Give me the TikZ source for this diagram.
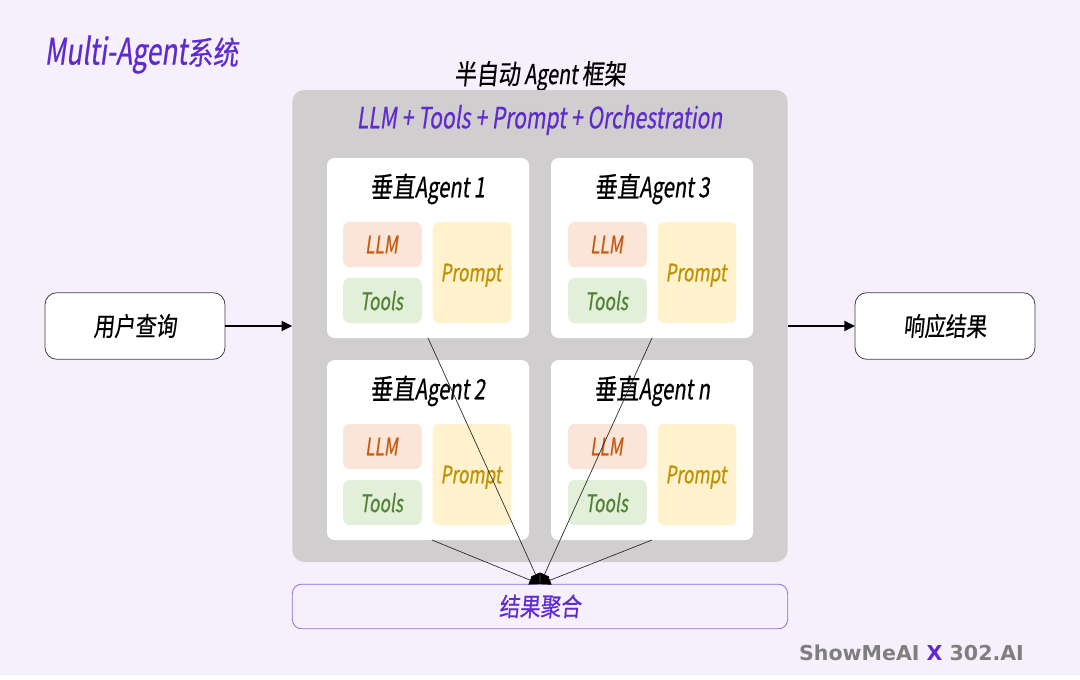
\documentclass[tikz,border=0pt]{standalone}
\usepackage{fontspec}
\setmainfont{Noto Sans CJK SC}[FakeStretch=0.72,FakeSlant=0.14,FakeBold=0.5]
\newfontfamily\cnfont{Noto Sans CJK SC}[FakeStretch=0.8,FakeSlant=0.1,FakeBold=0.5]
\newcommand{\cn}[1]{{\cnfont #1}}
\newfontfamily\wmfont{DejaVu Sans Bold}
\usetikzlibrary{arrows.meta,positioning}
\definecolor{bgc}{HTML}{F6F0FD}
\definecolor{purp}{HTML}{5F2BD0}
\definecolor{panel}{HTML}{D0CECE}
\definecolor{llmf}{HTML}{FBE5D9}
\definecolor{llmt}{HTML}{C55A11}
\definecolor{toolf}{HTML}{E2F0D9}
\definecolor{toolt}{HTML}{548235}
\definecolor{promf}{HTML}{FFF2CC}
\definecolor{promt}{HTML}{BF9000}
\definecolor{wmg}{HTML}{7F7F7F}
\tikzset{
  x=0.75pt,y=-0.75pt,
  card/.style={fill=white,rounded corners=7.5pt*0.75,minimum width=151.5pt,minimum height=135pt,inner sep=0,outer sep=0},
  io/.style={draw=black!75,line width=0.6pt,fill=white,rounded corners=9pt,minimum width=135pt,minimum height=50pt,inner sep=0,outer sep=0},
  tag/.style={rounded corners=5pt,inner sep=0,outer sep=0,minimum width=59pt,minimum height=34pt,text depth=0pt,font=\fontsize{18pt}{18pt}\selectfont,execute at begin node=\hspace{-1.5pt}},
  llmb/.style={tag,fill=llmf,text=llmt},
  toolb/.style={tag,fill=toolf,text=toolt},
  promb/.style={tag,fill=promf,text=promt,minimum width=59pt,minimum height=76pt},
  ctitle/.style={inner sep=0,font=\fontsize{21pt}{21pt}\selectfont},
  flow/.style={line width=1.4pt,-{Triangle[length=8pt,width=7.5pt]}},
  gather/.style={line width=0.5pt,draw=black!85,-{Triangle[length=8pt,width=7pt,color=black]}},
}
\begin{document}
\begin{tikzpicture}
\useasboundingbox (0,0) rectangle (1080,679);
\fill[white] (0,0) rectangle (1080,679);
\fill[bgc] (0,0) rectangle (1080,675);
\node[text=purp,inner sep=0,font=\fontsize{27.5pt}{27.5pt}\selectfont] (title) at (141.5,54.5) {Multi-Agent{\fontsize{24pt}{24pt}\selectfont\cn{系统}}};
\node[inner sep=0,font=\fontsize{20.5pt}{20.5pt}\selectfont] (frame) at (540,76) {\cn{半自动} Agent \cn{框架}};
\node[fill=panel,rounded corners=9pt,minimum width=371.5pt,minimum height=354pt,inner sep=0,outer sep=0] (panelbox) at (540,326) {};
\node[text=purp,inner sep=0,font=\fontsize{22pt}{22pt}\selectfont] (formula) at (539.5,120) {LLM + Tools + Prompt + Orchestration};
\node[card] (a1) at (428,248) {};
\node[card] (a3) at (652,248) {};
\node[card] (a2) at (428,450) {};
\node[card] (an) at (652,450) {};
\node[ctitle] (t1) at (427.5,189) {\cn{垂直}Agent 1};
\node[ctitle] (t3) at (652,189) {\cn{垂直}Agent 3};
\node[ctitle] (t2) at (427.5,391) {\cn{垂直}Agent 2};
\node[ctitle] (tn) at (652,391) {\cn{垂直}Agent n};
\node[llmb] (l1) at (382.5,244.5) {LLM};
\node[toolb] (o1) at (382.5,300.5) {Tools};
\node[promb] (p1) at (472,272.5) {Prompt};
\node[llmb] (l3) at (607.5,244.5) {LLM};
\node[toolb] (o3) at (607.5,300.5) {Tools};
\node[promb] (p3) at (697,272.5) {Prompt};
\node[llmb] (l2) at (382.5,446.5) {LLM};
\node[toolb] (o2) at (382.5,502.5) {Tools};
\node[promb] (p2) at (472,474.5) {Prompt};
\node[llmb] (ln) at (607.5,446.5) {LLM};
\node[toolb] (on) at (607.5,502.5) {Tools};
\node[promb] (pn) at (697,474.5) {Prompt};
\node[io,font=\fontsize{19.5pt}{19.5pt}\selectfont\cnfont] (user) at (135,326) {用户查询};
\node[io,font=\fontsize{19.5pt}{19.5pt}\selectfont\cnfont] (resp) at (945,326) {响应结果};
\node[draw=purp!70!white,line width=0.6pt,rounded corners=7pt,minimum width=371.5pt,minimum height=33.5pt,inner sep=0,outer sep=0,text=purp,font=\fontsize{19.2pt}{19.2pt}\selectfont\cnfont] (agg) at (540,606.5) {结果聚合};
\node[inner sep=0,text=wmg,font=\wmfont\fontsize{15.4pt}{15.4pt}\selectfont] (wm) at (911.5,653) {ShowMeAI \textcolor{purp}{X} 302.AI};
\draw[flow] (user.east) -- (panelbox.west);
\draw[flow] (panelbox.east) -- (resp.west);
\draw[gather] (a1.south) -- (agg.north);
\draw[gather] (a3.south) -- (agg.north);
\draw[gather] ([xshift=3pt]a2.south) -- (agg.north);
\draw[gather] (an.south) -- (agg.north);
\end{tikzpicture}
\end{document}
